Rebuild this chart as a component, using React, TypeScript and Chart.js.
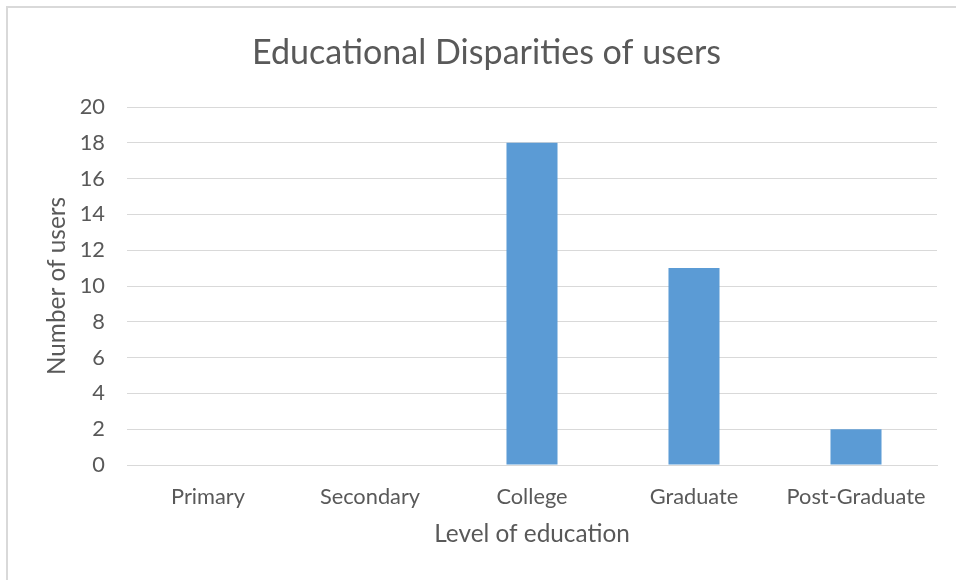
import React, { useEffect, useRef } from 'react';
import { Chart, registerables } from 'chart.js';

Chart.register(...registerables);

const TITLE = 'Educational Disparities of users';
const X_TITLE = 'Level of education';
const Y_TITLE = 'Number of users';
const categories = ['Primary', 'Secondary', 'College', 'Graduate', 'Post-Graduate'];
const users = [0, 0, 18, 11, 2];
const Y_MIN = 0;
const Y_MAX = 20;
const Y_STEP = 2;

const FONT = 'Lato, "Open Sans", sans-serif';
const TEXT = '#595959';
const GRID = '#d9d9d9';
const BAR = '#5B9BD5';

const W = 956;
const H = 580;

function fitSize(text: string, target: number): number {
  const c = document.createElement('canvas').getContext('2d') as CanvasRenderingContext2D;
  c.font = `100px ${FONT}`;
  const w = c.measureText(text).width;
  return Math.round((1000 * target) / w) / 10;
}

export default function App() {
  const ref = useRef<HTMLCanvasElement | null>(null);

  useEffect(() => {
    if (!ref.current) return;
    const tick = fitSize('Post-Graduate', 139);
    const titleSize = fitSize(TITLE, 470);
    const axisSize = (fitSize(X_TITLE, 196) + fitSize(Y_TITLE, 178)) / 2;
    const tlh = titleSize * 1.2;
    const alh = axisSize * 1.2;
    const klh = tick * 1.2;

    const chart = new Chart(ref.current, {
      type: 'bar',
      data: {
        labels: categories,
        datasets: [
          {
            label: Y_TITLE,
            data: users,
            backgroundColor: BAR,
            borderWidth: 0,
            categoryPercentage: 1,
            barPercentage: 0.315,
          },
        ],
      },
      options: {
        responsive: false,
        animation: false,
        layout: { padding: { left: 36, right: 19, top: 0, bottom: 18 } },
        plugins: {
          legend: { display: false },
          tooltip: { enabled: false },
          title: {
            display: true,
            text: TITLE,
            color: TEXT,
            font: { family: FONT, size: titleSize, weight: 'normal', lineHeight: 1.2 },
            padding: { top: 53 - tlh / 2, bottom: 54 - tlh / 2 },
          },
        },
        scales: {
          x: {
            grid: { display: false },
            border: { display: true, color: GRID, width: 1 },
            ticks: {
              color: TEXT,
              font: { family: FONT, size: tick, lineHeight: 1.2 },
              padding: 24 - klh / 2,
              maxRotation: 0,
              autoSkip: false,
            },
            title: {
              display: true,
              text: X_TITLE,
              color: TEXT,
              font: { family: FONT, size: axisSize, lineHeight: 1.2 },
              padding: { top: 0, bottom: 28 - alh / 2 },
            },
            afterFit: (s: any) => {
              s.height = H - 18 - 465;
            },
          },
          y: {
            min: Y_MIN,
            max: Y_MAX,
            ticks: {
              stepSize: Y_STEP,
              color: TEXT,
              font: { family: FONT, size: tick, lineHeight: 1.2 },
              padding: 22,
            },
            grid: { color: GRID, lineWidth: 1, drawTicks: false },
            border: { display: false },
            title: {
              display: true,
              text: Y_TITLE,
              color: TEXT,
              font: { family: FONT, size: axisSize, lineHeight: 1.2 },
              padding: { top: 21 - alh / 2, bottom: 0 },
            },
            afterFit: (s: any) => {
              s.width = 127 - 36;
            },
          },
        },
      },
    });
    return () => chart.destroy();
  }, []);

  return (
    <div
      style={{
        position: 'fixed',
        left: 0,
        top: 0,
        width: W,
        height: H,
        overflow: 'hidden',
        background: '#fff',
      }}
    >
      <div
        style={{
          position: 'absolute',
          left: 6,
          top: 6,
          width: 1000,
          height: 1000,
          border: `2px solid ${GRID}`,
          boxSizing: 'border-box',
        }}
      />
      <canvas ref={ref} width={W} height={H} style={{ position: 'absolute', left: 0, top: 0 }} />
    </div>
  );
}
